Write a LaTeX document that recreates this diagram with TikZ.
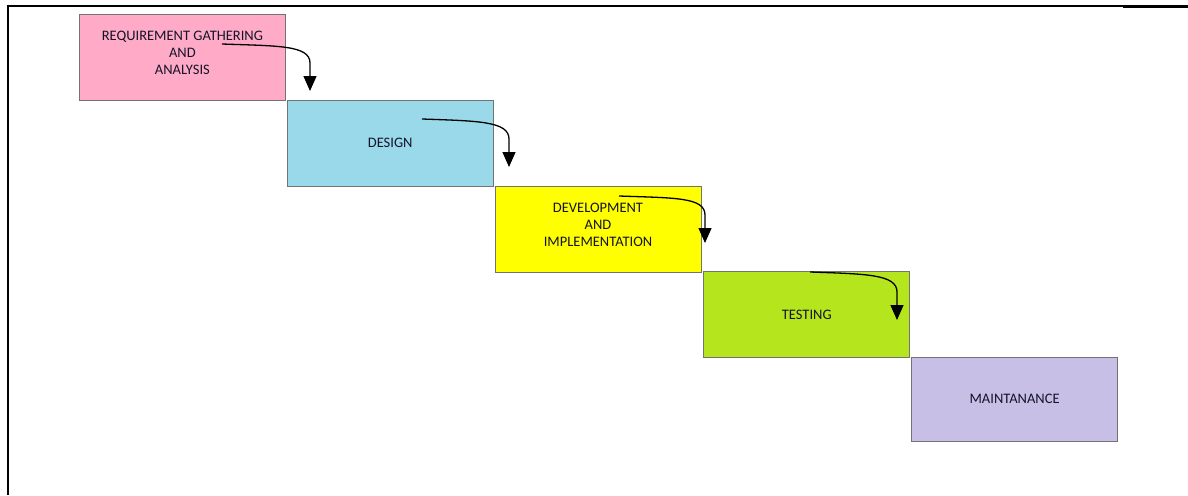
\documentclass[tikz,border=0pt]{standalone}
\usepackage{fontspec}
\setmainfont{Carlito}
\usepackage{xcolor}
\usetikzlibrary{arrows.meta}
\usetikzlibrary{positioning}
\usetikzlibrary{calc}

\definecolor{reqpink}{HTML}{FFABC8}
\definecolor{designblue}{HTML}{99D9EA}
\definecolor{devyellow}{HTML}{FFFF00}
\definecolor{testgreen}{HTML}{B5E61D}
\definecolor{maintpurple}{HTML}{C8BFE7}
\definecolor{labelink}{HTML}{141428}

\begin{document}
\begin{tikzpicture}[x=1pt, y=-1pt, align=center,
	phase node/.style={rectangle, draw=black!55, line width=0.8pt, minimum width=206pt, minimum height=86pt,
		inner sep=0pt, font=\fontsize{14.5}{17}\selectfont, text=labelink},
	flow arrow/.style={line width=1.3pt, -{Triangle[width=13pt, length=15pt]}},
]
\useasboundingbox (0,0) rectangle (1188,495);
% page rules
\draw [line width=1.4pt] (8,6) -- (1188,6);
\draw [line width=2.6pt] (8,6) -- (75,6);
\draw [line width=2.6pt] (1123,7) -- (1188,7);
\draw [line width=2.6pt] (8,5) -- (8,495);
%
\node [phase node, fill=reqpink, anchor=north west, text depth=10pt] at (79,14) (Req) {REQUIREMENT GATHERING\\AND\\ANALYSIS};
\node [phase node, fill=designblue]  (Design) [below right=1 and 1 of Req] {DESIGN};
\node [phase node, fill=devyellow, text depth=9pt] (DevImpl) [below right=1 and 1 of Design] {DEVELOPMENT\\AND\\IMPLEMENTATION};
\node [phase node, fill=testgreen]   (Testing) [below right=1 and 2 of DevImpl] {TESTING};
\node [phase node, fill=maintpurple, minimum height=84pt] (Maint) [below right=1.5 and 1 of Testing] {MAINTANANCE};
%
\coordinate (ReqFrom)     at (222,44);
\coordinate (ReqTo)       at (310,91);
\coordinate (DesignFrom)  at (422,119);
\coordinate (DesignTo)    at (509,167);
\coordinate (DevImplFrom) at (619,196);
\coordinate (DevImplTo)   at (705,243);
\coordinate (TestingFrom) at (810,272);
\coordinate (TestingTo)   at (897,320);
%
\draw [flow arrow] (ReqFrom) .. controls +(55,2) and +(0,-18) .. ($(ReqTo)+(0,-28)$) -- (ReqTo);
\draw [flow arrow] (DesignFrom) .. controls +(55,2) and +(0,-18) .. ($(DesignTo)+(0,-28)$) -- (DesignTo);
\draw [flow arrow] (DevImplFrom) .. controls +(55,2) and +(0,-18) .. ($(DevImplTo)+(0,-28)$) -- (DevImplTo);
\draw [flow arrow] (TestingFrom) .. controls +(55,2) and +(0,-18) .. ($(TestingTo)+(0,-28)$) -- (TestingTo);
\end{tikzpicture}
\end{document}
